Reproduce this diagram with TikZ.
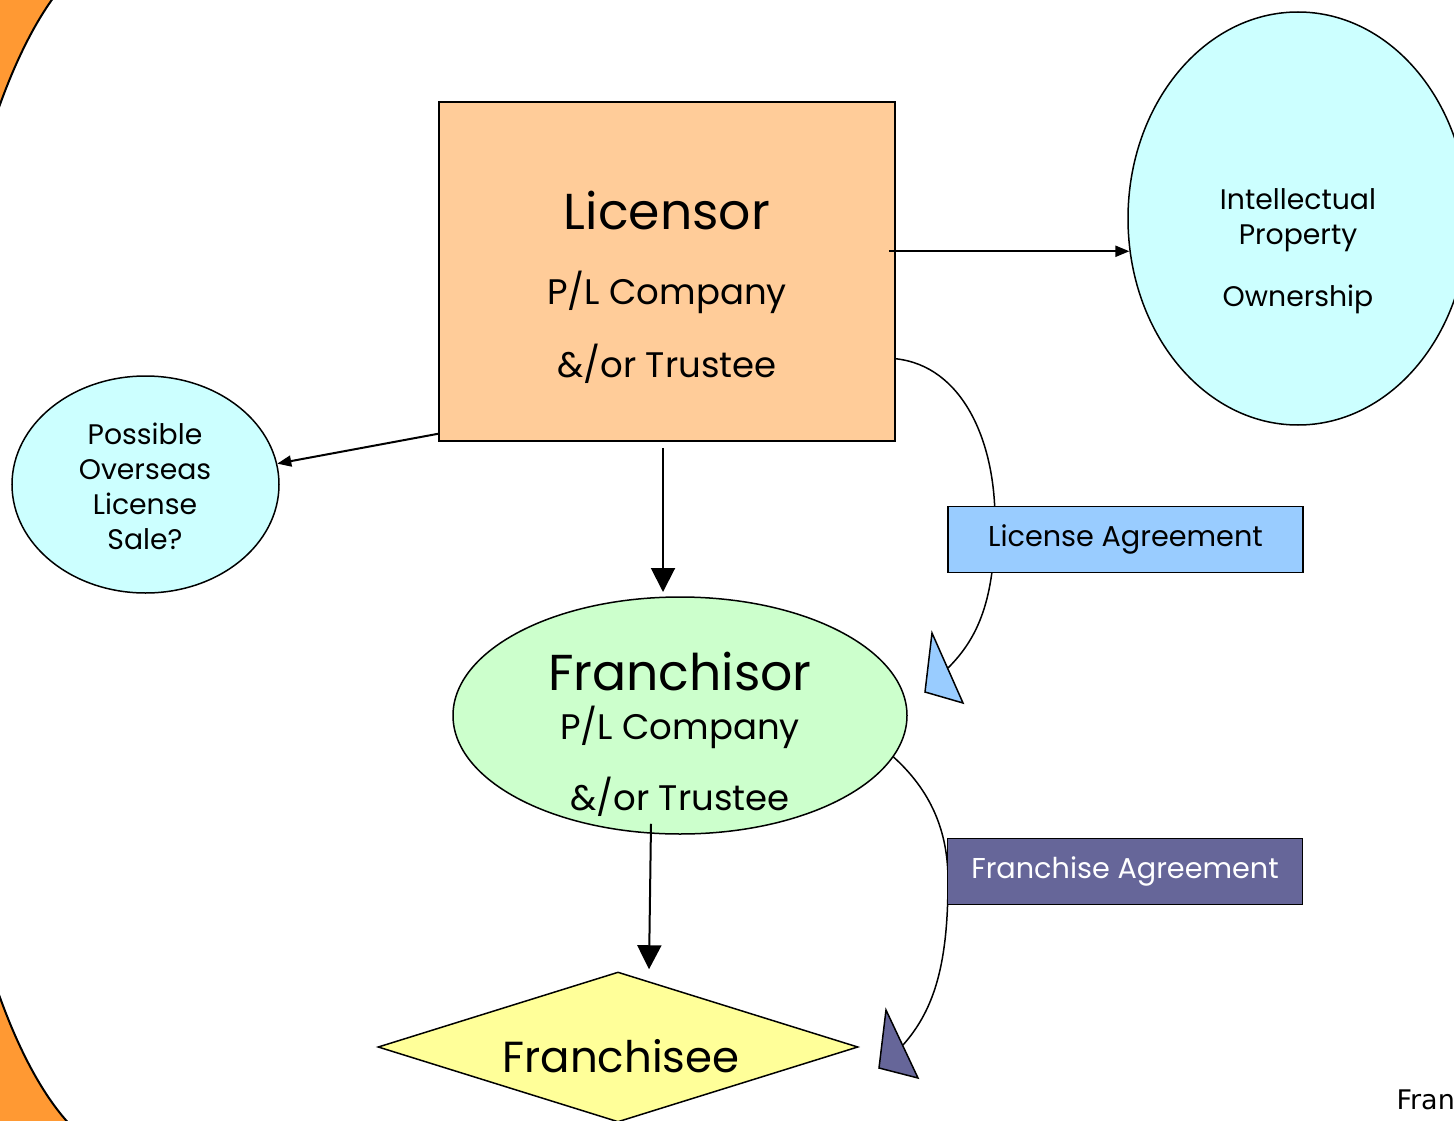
\documentclass[tikz,border=0pt]{standalone}
\usepackage{fontspec}
\setmainfont{Poppins}
\newfontfamily\tailfont{DejaVu Sans}
\usetikzlibrary{arrows.meta,shapes.geometric,calc}
\definecolor{corner}{HTML}{FF9933}
\definecolor{peach}{HTML}{FFCC99}
\definecolor{aqua}{HTML}{CCFFFF}
\definecolor{mint}{HTML}{CCFFCC}
\definecolor{lemon}{HTML}{FFFF99}
\definecolor{sky}{HTML}{99CCFF}
\definecolor{slate}{HTML}{666699}
\tikzset{unit/.style={draw=black,line width=1.5pt,inner sep=0pt},
  flow/.style={-{Triangle[length=14pt,width=11pt]},line width=2pt},
  bigflow/.style={-{Triangle[length=24pt,width=24pt]},line width=2pt},
  swoop/.style={line width=1.5pt},
  tag/.style={unit,minimum width=355pt,minimum height=66pt,font=\fontsize{28.7}{33}\selectfont},
  huge/.style={font=\fontsize{50.5}{56}\selectfont},
  mid/.style={font=\fontsize{35.5}{40}\selectfont},
  small/.style={font=\fontsize{28.3}{35}\selectfont,align=center}}

\begin{document}
\begin{tikzpicture}[x=1pt,y=-1pt]
\useasboundingbox (0,0) rectangle (1454,1121);
\clip (0,0) rectangle (1454,1121);
% backdrop
\fill[corner] (0,0) rectangle (1454,1121);
\fill[white] (140,551) ellipse [x radius=205.5, y radius=610];
\fill[white] (140,-5) rectangle (1460,1130);
\draw[line width=2pt] (140,-59) arc[start angle=270, end angle=90, x radius=205.5, y radius=610];
% swoops behind the tags
\coordinate (latip) at (948,668);
\coordinate (fatip) at (903,1045);
\node[unit,fill=peach,minimum width=456pt,minimum height=339pt] (lic) at (667,271.5) {};
\node[unit,ellipse,fill=mint,minimum width=454pt,minimum height=237pt] (fsor) at (680,715.5) {};
\draw[swoop] ($(lic.south east)+(0,-83)$) .. controls (962,366) and (995,440) .. (995,520)
  .. controls (995,600) and (978,638) .. (latip);
\draw[swoop] (fsor.-11) .. controls (930,790) and (948,830) .. (948,880)
  .. controls (948,960) and (936,1008) .. (fatip);
\filldraw[fill=sky,draw=black,line width=1.5pt] (932,633) -- (925,692) -- (963,703) -- cycle;
\filldraw[fill=slate,draw=black,line width=1.5pt] (886,1010) -- (879,1068) -- (918,1078) -- cycle;
% shapes
\node[unit,ellipse,fill=aqua,minimum width=340pt,minimum height=413pt] (ip) at (1298,218.5) {};
\node[unit,ellipse,fill=aqua,minimum width=267pt,minimum height=217pt] (pos) at (145.5,484.5) {};
\node[unit,diamond,fill=lemon,minimum width=480pt,minimum height=150pt,aspect=3.2] (fsee) at (618,1047) {};
\node[tag,fill=sky] (la) at (1125.5,539.5) {License Agreement};
\node[tag,fill=slate,text=white] (fa) at (1125,871.5) {Franchise Agreement};
% texts
\node[huge] (licT) at (667,211) {Licensor};
\node[mid] (licP) at (667,292) {P/L Company};
\node[mid] (licR) at (667,364) {\&/or Trustee};
\node[small] (ipT) at (1298,251) {Intellectual\\[0pt]Property\\[27pt]Ownership};
\node[small] (posT) at (145,486) {Possible\\[0pt]Overseas\\[0pt]License\\[0pt]Sale?};
\node[huge] (fsorT) at (680,672) {Franchisor};
\node[mid] (fsorP) at (680,727) {P/L Company};
\node[mid] (fsorR) at (680,797) {\&/or Trustee};
\node[font=\fontsize{43.5}{48}\selectfont] (fseeT) at (621,1056) {Franchisee};
\node[font=\tailfont\fontsize{27}{30}\selectfont,anchor=west] (tail) at (1393,1100) {Fran};
% arrows
\draw[flow] ($(lic.east|-ip.191)+(-7,0)$) -- (ip.191);
\draw[flow] ($(lic.south west)+(0,-8)$) -- (pos.9);
\draw[bigflow] ($(lic.south)+(-4,6)$) -- (663,592);
\draw[bigflow] ($(fsor.south)+(-29,-11)$) -- ($(fsee.north)+(31,-2)$);
\end{tikzpicture}
\end{document}
